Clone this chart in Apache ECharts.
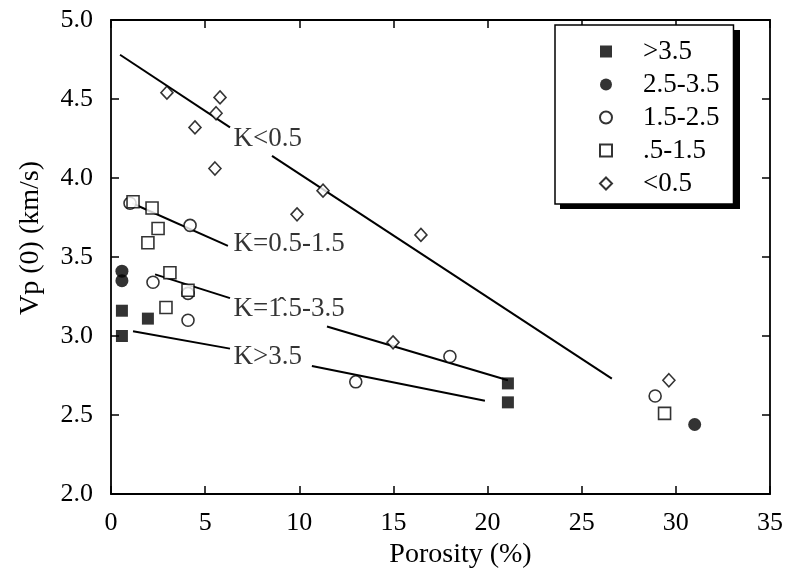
<!DOCTYPE html>
<html>
<head>
<meta charset="utf-8">
<script src="https://cdn.jsdelivr.net/npm/echarts@6/dist/echarts.min.js"></script>
<style>
html,body{margin:0;padding:0;background:#fff;}
#chart{width:787px;height:574px;}
</style>
</head>
<body>
<div id="chart"></div>
<script>
// ---- data ----
const xTicks = [0, 5, 10, 15, 20, 25, 30, 35];
const yTicks = [2.0, 2.5, 3.0, 3.5, 4.0, 4.5, 5.0];
const legendNames = ['>3.5', '2.5-3.5', '1.5-2.5', '.5-1.5', '<0.5'];

const kGt35 = [[0.58,3.16],[1.96,3.11],[0.58,3.00],[21.08,2.70],[21.08,2.58]];
const k25_35 = [[0.58,3.41],[0.58,3.35],[31.0,2.44]];
const k15_25 = [[1.01,3.84],[4.2,3.70],[2.23,3.34],[4.09,3.27],[4.09,3.10],[13.0,2.71],[18.0,2.87],[28.9,2.62]];
const k05_15 = [[1.17,3.85],[2.18,3.81],[2.5,3.68],[1.96,3.59],[3.13,3.40],[2.92,3.18],[4.09,3.29],[29.4,2.51]];
const kLt05 = [[2.97,4.54],[5.79,4.51],[5.58,4.41],[4.46,4.32],[5.52,4.06],[11.26,3.92],[9.88,3.77],[16.46,3.64],[14.98,2.96],[29.63,2.72]];

// trend line segments (broken where the labels sit)
const lineLt05 = [[[0.48,4.78],[6.32,4.32]], [[8.55,4.14],[26.6,2.73]]];
const line05_15 = [[[1.12,3.84],[6.21,3.57]]];
const line15_35 = [[[2.34,3.39],[6.32,3.24]], [[11.47,3.06],[21.08,2.72]]];
const lineGt35 = [[[1.17,3.03],[6.32,2.92]], [[10.67,2.81],[19.86,2.59]]];

const lineLabels = ['K<0.5', 'K=0.5-1.5', 'K=1\u0302.5-3.5', 'K>3.5'];
const lineLabelPos = [[6.48,4.25],[6.48,3.58],[6.48,3.17],[6.48,2.87]];

// ---- chart ----
const FONT = "'Liberation Serif','Times New Roman',serif";
const chart = echarts.init(document.getElementById('chart'), null, {renderer:'canvas'});

const openStyle = {color:'#fff', borderColor:'#000', borderWidth:1.6};
const fillStyle = {color:'#000', borderColor:'#000', borderWidth:0};

const series = [
  {name:legendNames[0], type:'scatter', symbol:'rect', symbolSize:12, itemStyle:fillStyle, data:kGt35, z:5},
  {name:legendNames[1], type:'scatter', symbol:'circle', symbolSize:13, itemStyle:fillStyle, data:k25_35, z:5},
  {name:legendNames[2], type:'scatter', symbol:'circle', symbolSize:12, itemStyle:openStyle, data:k15_25, z:5},
  {name:legendNames[3], type:'scatter', symbol:'rect', symbolSize:12, itemStyle:openStyle, data:k05_15, z:5},
  {name:legendNames[4], type:'scatter', symbol:'diamond', symbolSize:[12,13], itemStyle:openStyle, data:kLt05, z:5}
];
[lineLt05, line05_15, line15_35, lineGt35].forEach(function(group){
  group.forEach(function(seg){
    series.push({type:'line', data:seg, symbol:'none', silent:true, z:3,
      lineStyle:{color:'#000', width:2}});
  });
});
series.push({
  type:'scatter', symbolSize:1, itemStyle:{color:'rgba(0,0,0,0)'}, silent:true, z:6,
  data: lineLabels.map(function(t,i){ return {name:t, value:lineLabelPos[i]}; }),
  label:{show:true, position:'right', distance:0, formatter:'{b}',
    color:'#000', fontFamily:FONT, fontSize:27}
});

const axisCommon = {
  axisLine:{show:true, onZero:false, lineStyle:{color:'#000', width:1.8}},
  axisTick:{show:true, inside:true, length:8, lineStyle:{color:'#000', width:1.5}},
  splitLine:{show:false}
};

chart.setOption({
  animation:false,
  backgroundColor:'#fff',
  grid:{left:111, right:17, top:20, bottom:80, containLabel:false},
  graphic:[{type:'rect', z:1, zlevel:0, silent:true,
    shape:{x:560, y:30, width:180, height:179}, style:{fill:'#000'}}],
  legend:{
    data:legendNames, orient:'vertical', left:555, top:25, z:10,
    itemWidth:12, itemHeight:12, itemGap:6,
    padding:[13,14,7,44],
    backgroundColor:'#fff', borderColor:'#000', borderWidth:1.5,
    textStyle:{color:'#000', fontFamily:FONT, fontSize:27, lineHeight:27, padding:[0,0,0,26]},
    selectedMode:false
  },
  xAxis:[
    Object.assign({type:'value', min:0, max:35, interval:5, position:'bottom',
      name:'Porosity (%)', nameLocation:'middle', nameGap:44,
      nameTextStyle:{color:'#000', fontFamily:FONT, fontSize:28, padding:[0,0,0,40]},
      axisLabel:{color:'#000', fontFamily:FONT, fontSize:26, margin:16,
        formatter:function(v){ return xTicks.indexOf(v) >= 0 ? String(v) : ''; }}}, axisCommon),
    Object.assign({type:'value', min:0, max:35, interval:5, position:'top',
      axisLabel:{show:false}}, axisCommon)
  ],
  yAxis:[
    Object.assign({type:'value', min:2, max:5, interval:0.5, position:'left',
      name:'Vp (0) (km/s)', nameLocation:'middle', nameGap:66, nameRotate:90,
      nameTextStyle:{color:'#000', fontFamily:FONT, fontSize:28, padding:[0,0,0,38]},
      axisLabel:{color:'#000', fontFamily:FONT, fontSize:26, margin:18,
        formatter:function(v){ return yTicks.indexOf(v) >= 0 ? v.toFixed(1) : ''; }}}, axisCommon),
    Object.assign({type:'value', min:2, max:5, interval:0.5, position:'right',
      axisLabel:{show:false}}, axisCommon)
  ],
  series:series
});
</script>
</body>
</html>
